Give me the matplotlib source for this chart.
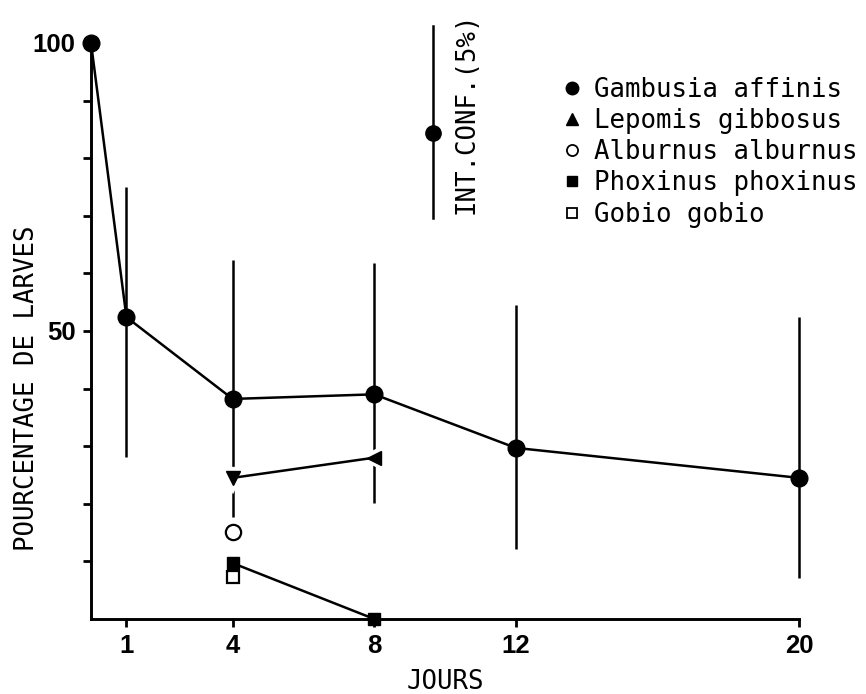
import numpy as np
import matplotlib
matplotlib.use("Agg")
import matplotlib.pyplot as plt
from matplotlib.lines import Line2D

# Données (jours / pourcentage de larves)
days = [0, 1, 4, 8, 12, 20]
gambusia = [100, 52.4, 38.2, 39.0, 29.7, 24.5]
gambusia_low = [np.nan, 28.1, 17.7, 20.1, 12.2, 7.1]
gambusia_high = [np.nan, 75.0, 62.3, 61.8, 54.5, 52.4]

lepomis_days = [4, 8]
lepomis = [24.5, 28.0]

alburnus_days = [4]
alburnus = [15.1]

phoxinus_days = [4, 8]
phoxinus = [9.7, 0.0]

gobio_days = [4]
gobio = [7.3]

x_ticks = [1, 4, 8, 12, 20]
y_ticks = [10, 20, 30, 40, 50, 60, 70, 80, 90, 100]
y_labels = ["", "", "", "", "50", "", "", "", "", "100"]

species = ["Gambusia affinis", "Lepomis gibbosus", "Alburnus alburnus",
           "Phoxinus phoxinus", "Gobio gobio"]
ci_label = "INT.CONF.(5%)"

MONO = "DejaVu Sans Mono"
FS = 18.5
LW = 1.8

fig = plt.figure(figsize=(8.66, 6.94), dpi=100)
ax = fig.add_axes([0.1051, 0.1081, 0.8176, 0.8300])

# barres d'intervalle de confiance
ax.vlines(days, gambusia_low, gambusia_high, color="black", lw=LW, zorder=1, clip_on=False)

# Gambusia
ax.plot(days, gambusia, color="black", lw=LW, marker="o", ms=12, zorder=6, clip_on=False)

# Lepomis : halo blanc puis ligne puis marqueurs
lep_markers = ["v", "<"]
for d, v, m in zip(lepomis_days, lepomis, lep_markers):
    ax.plot([d], [v], marker=m, ms=10, color="white", mec="white", mew=6, ls="none", zorder=3)
ax.plot(lepomis_days, lepomis, color="black", lw=LW, zorder=4)
for d, v, m in zip(lepomis_days, lepomis, lep_markers):
    ax.plot([d], [v], marker=m, ms=10, color="black", ls="none", zorder=5)

# Alburnus
ax.plot(alburnus_days, alburnus, ls="none", marker="o", ms=11, mfc="white",
        mec="black", mew=1.6, zorder=5)

# Phoxinus
ax.plot(phoxinus_days, phoxinus, color="black", lw=LW, marker="s", ms=9,
        zorder=5, clip_on=False)

# Gobio
ax.plot(gobio_days, gobio, ls="none", marker="s", ms=9, mfc="white",
        mec="black", mew=1.6, zorder=4)

# axes
ax.set_xlim(0, 20)
ax.set_ylim(0, 100)
for s in ["top", "right"]:
    ax.spines[s].set_visible(False)
for s in ["left", "bottom"]:
    ax.spines[s].set_linewidth(2.1)

ax.set_xticks(x_ticks)
ax.set_xticklabels([str(t) for t in x_ticks])
ax.set_yticks(y_ticks)
ax.set_yticklabels(y_labels)
ax.tick_params(direction="out", length=6, width=2.0, pad=5)
for lab in ax.get_xticklabels() + ax.get_yticklabels():
    lab.set_fontfamily("Liberation Sans")
    lab.set_fontweight("bold")
    lab.set_fontsize(FS)

ax.set_ylabel("POURCENTAGE DE LARVES", fontfamily=MONO, fontsize=FS)
ax.yaxis.set_label_coords(-0.072, 0.40)
ax.set_xlabel("JOURS", fontfamily=MONO, fontsize=FS, va="top")
ax.xaxis.set_label_coords(0.5, -0.087)

# clé de l'intervalle de confiance
ci_x, ci_top, ci_bot, ci_mid = 0.483, 1.03, 0.696, 0.844
ax.plot([ci_x, ci_x], [ci_bot, ci_top], color="black", lw=LW,
        transform=ax.transAxes, clip_on=False)
ax.plot([ci_x], [ci_mid], marker="o", ms=11, color="black",
        transform=ax.transAxes, clip_on=False)
ax.text(0.530, 0.703, ci_label, rotation=90, ha="center", va="bottom",
        fontfamily=MONO, fontsize=FS, transform=ax.transAxes)

# légende
handles = [
    Line2D([], [], ls="none", marker="o", ms=9, color="black"),
    Line2D([], [], ls="none", marker="^", ms=8, color="black"),
    Line2D([], [], ls="none", marker="o", ms=8, mfc="white", mec="black", mew=1.3),
    Line2D([], [], ls="none", marker="s", ms=7.5, color="black"),
    Line2D([], [], ls="none", marker="s", ms=7.5, mfc="white", mec="black", mew=1.3),
]
fig.legend(handles, species, loc="upper left", bbox_to_anchor=(0.652, 0.889),
           frameon=False, prop={"family": MONO, "size": FS},
           handlelength=0.6, handletextpad=0.55, labelspacing=0.2,
           borderpad=0, borderaxespad=0)

fig.savefig("out.png", dpi=100)
